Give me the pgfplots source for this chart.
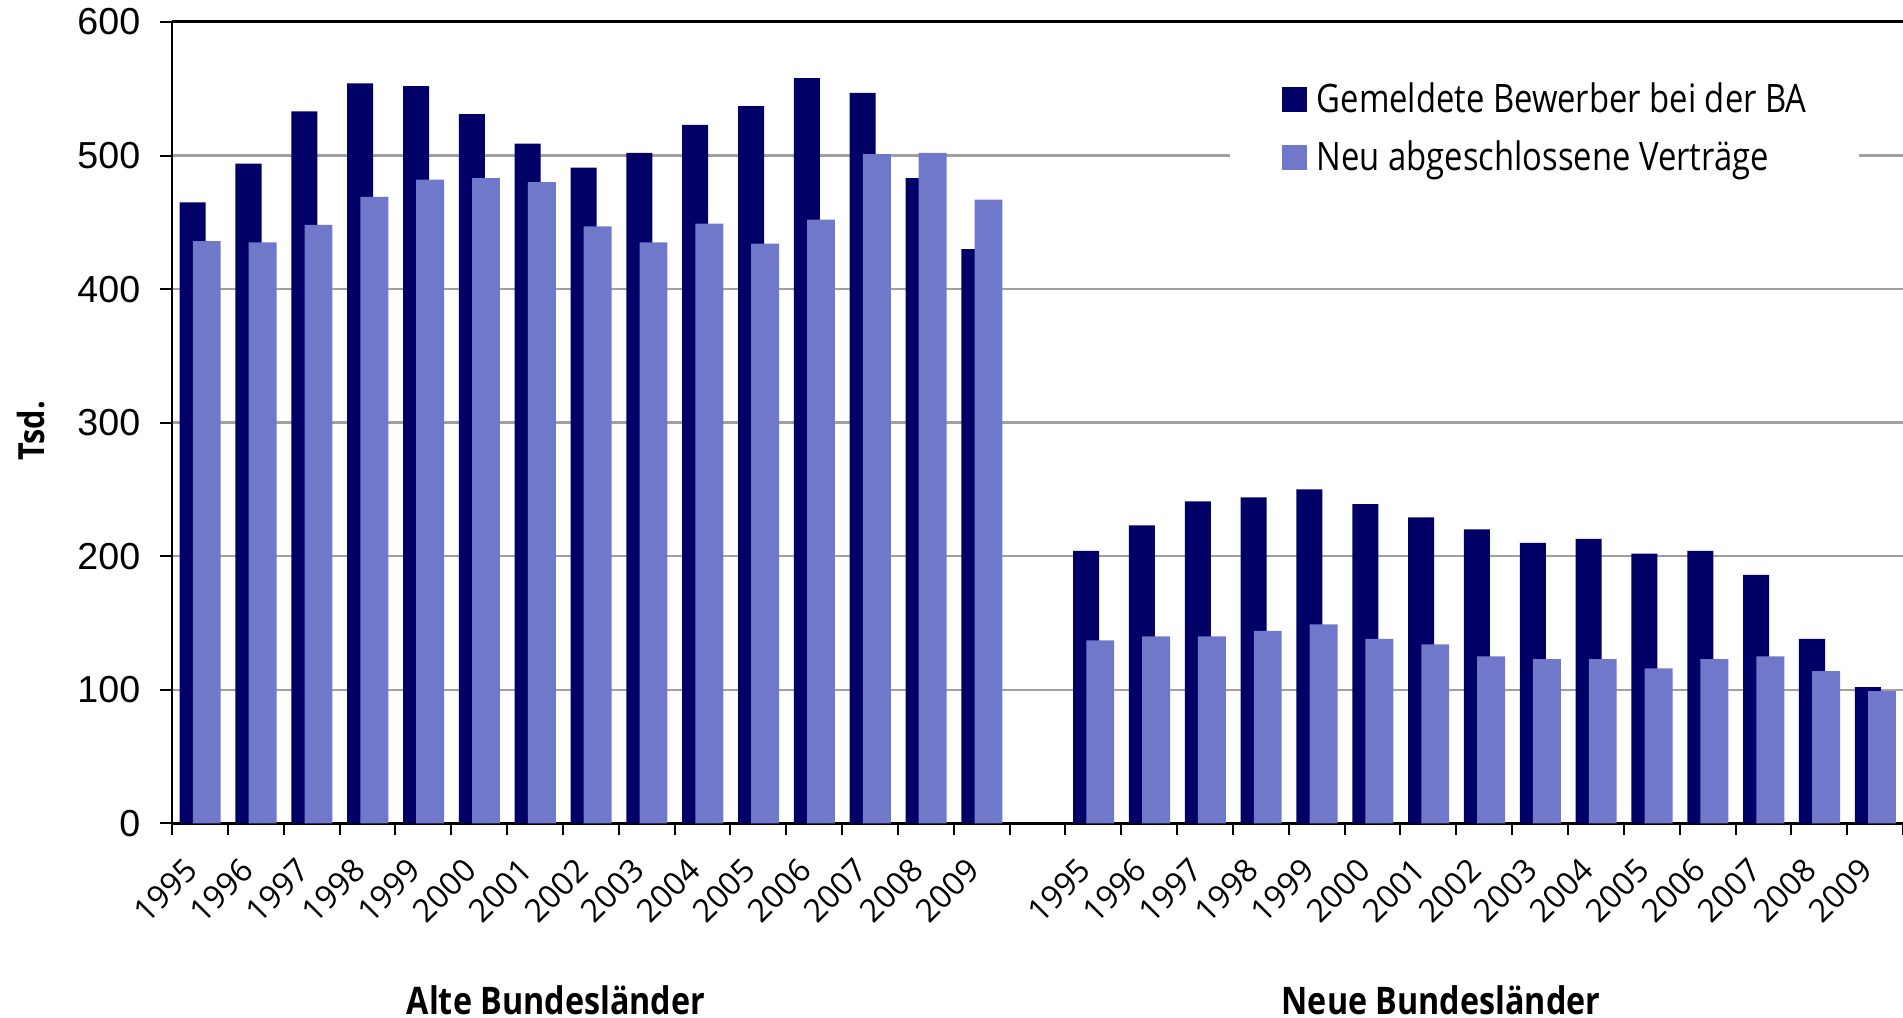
\documentclass[border=0pt]{standalone}
\usepackage{pgfplots}
\pgfplotsset{compat=1.18}
\usepackage{pgfplotstable}
\usepackage{fontspec}
\newfontfamily\legfont{Open Sans}[FakeStretch=0.836]
\newfontfamily\labfont{Open Sans}[FakeStretch=0.85]
\newfontfamily\yearfont{Open Sans}
\newfontfamily\numfont{Liberation Sans}
\definecolor{darkbar}{RGB}{0,0,102}
\definecolor{lightbar}{RGB}{112,121,201}
\definecolor{gridgray}{RGB}{160,160,160}

\pgfplotstableread{
x g v
0 465 436
1 494 435
2 533 448
3 554 469
4 552 482
5 531 483
6 509 480
7 491 447
8 502 435
9 523 449
10 537 434
11 558 452
12 547 501
13 483 502
14 430 467
16 204 137
17 223 140
18 241 140
19 244 144
20 250 149
21 239 138
22 229 134
23 220 125
24 210 123
25 213 123
26 202 116
27 204 123
28 186 125
29 138 114
30 102 99
}\data

\begin{document}
\begin{tikzpicture}
\begin{axis}[
  scale only axis, width=432.75pt, height=200.325pt,
  clip=false,
  xmin=-0.5, xmax=30.5, ymin=0, ymax=600,
  axis x line*=bottom, axis y line*=left,
  x axis line style={black, line width=0.75pt},
  y axis line style={black, line width=0.5pt},
  ytick={0,100,...,500},
  extra y ticks={600},
  extra y tick style={grid=major, grid style={black, line width=0.75pt}},
  ymajorgrids, grid style={gridgray, line width=0.6pt},
  tick align=outside,
  major tick length=3pt,
  tick style={black, line width=0.5pt},
  xtick={-0.5,0.5,...,30.5},
  xticklabels={},
  extra x ticks={0,1,...,14,16,17,...,30},
  extra x tick labels={1995,1996,1997,1998,1999,2000,2001,2002,2003,2004,2005,2006,2007,2008,2009,1995,1996,1997,1998,1999,2000,2001,2002,2003,2004,2005,2006,2007,2008,2009},
  extra x tick style={grid=none, major tick length=0pt},
  xticklabel style={font=\yearfont\fontsize{8}{9}\selectfont, inner sep=0pt, xshift=-2pt, yshift=-10.1pt, rotate=45, anchor=east},
  /pgf/number format/assume math mode=true,
  yticklabel style={font=\numfont\fontsize{9.4}{11}\selectfont, inner sep=0pt, anchor=east, xshift=-4.75pt},
  legend image code/.code={\fill[#1] (0pt,-2.3pt) rectangle (6.25pt,3.95pt);},
  legend cell align=left,
  legend style={at={(0.6106,0.955)}, anchor=north west, draw=none, fill=white,
    inner xsep=13pt, inner ysep=5.95pt, row sep=4.5pt, column sep=2.5pt,
    nodes={inner sep=0pt, text height=7.5pt, text depth=2.5pt},
    font=\legfont\fontsize{9.8}{11.8}\selectfont},
]
\addplot[ybar, bar width=0.466, bar shift=-0.13, fill=darkbar, draw=none] table[x=x,y=g]{\data};
\addplot[ybar, bar width=0.5, bar shift=0.123, fill=lightbar, draw=none] table[x=x,y=v]{\data};
\legend{Gemeldete Bewerber bei der BA, Neu abgeschlossene Verträge}
\coordinate (BL) at (rel axis cs:0,0);
\coordinate (TR) at (rel axis cs:1,1);
\node[font=\labfont\bfseries\fontsize{9.5}{11}\selectfont, yshift=-44.2pt] at (rel axis cs:0.2218,0) {Alte Bundesländer};
\node[font=\labfont\bfseries\fontsize{9.5}{11}\selectfont, yshift=-44.2pt] at (rel axis cs:0.7331,0) {Neue Bundesländer};
\node[font=\labfont\bfseries\fontsize{9}{10}\selectfont, xshift=-35.25pt, rotate=90] at (rel axis cs:0,0.49) {Tsd.};
\end{axis}
\pgfresetboundingbox
\path ([xshift=-43pt,yshift=-48.675pt]BL) rectangle ([yshift=5.5pt]TR);
\end{tikzpicture}
\end{document}
